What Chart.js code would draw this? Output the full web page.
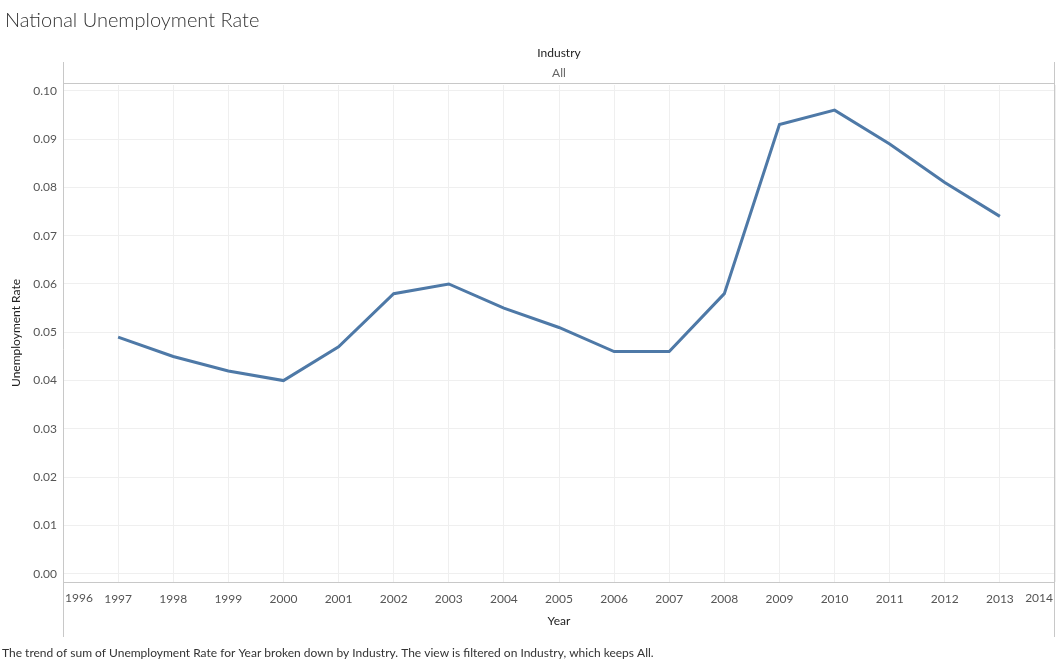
<!DOCTYPE html>
<html>
<head>
<meta charset="UTF-8">
<script src="https://cdn.jsdelivr.net/npm/chart.js"></script>
<style>
  body { margin: 0; background: #fff; }
  #wrap { width: 1057px; height: 663px; position: relative; }
</style>
</head>
<body>
<div id="wrap"><canvas id="chart" width="1057" height="663"></canvas></div>
<script>
const years = [1997, 1998, 1999, 2000, 2001, 2002, 2003, 2004, 2005, 2006, 2007, 2008, 2009, 2010, 2011, 2012, 2013];
const rates = [0.049, 0.045, 0.042, 0.040, 0.047, 0.058, 0.060, 0.055, 0.051, 0.046, 0.046, 0.058, 0.093, 0.096, 0.089, 0.081, 0.074];
const yTicks = [0, 0.01, 0.02, 0.03, 0.04, 0.05, 0.06, 0.07, 0.08, 0.09, 0.10];
const xTicks = [1996, 1997, 1998, 1999, 2000, 2001, 2002, 2003, 2004, 2005, 2006, 2007, 2008, 2009, 2010, 2011, 2012, 2013, 2014];
const xMin = 1996, xMax = 2014;

const FONT = 'Lato, "Open Sans", sans-serif';

// titles, headers, edge tick labels and frame lines drawn on the canvas
const decor = {
  id: 'decor',
  afterDraw(chart) {
    const c = chart.ctx, a = chart.chartArea;
    c.save();
    c.fillStyle = '#333';
    c.font = '300 20px ' + FONT;
    c.textBaseline = 'middle';
    c.fillText('National Unemployment Rate', 5, 21);
    c.textAlign = 'center';
    c.font = '12px ' + FONT;
    c.fillStyle = '#555';
    // edge year labels are pulled inside the plot, as in the original view
    c.textAlign = 'left';
    c.fillText(String(xMin), a.left + 2, 598);
    c.textAlign = 'right';
    c.fillText(String(xMax), a.right - 2, 598);
    c.textAlign = 'center';
    c.fillStyle = '#222';
    c.fillText('Industry', 559, 53);
    c.fillStyle = '#666';
    c.fillText('All', 559, 73);
    c.fillStyle = '#222';
    c.fillText('Year', 559, 621);
    c.save();
    c.translate(16, 333);
    c.rotate(-Math.PI / 2);
    c.fillText('Unemployment Rate', 0, 0);
    c.restore();
    c.textAlign = 'left';
    c.fillStyle = '#333';
    c.fillText('The trend of sum of Unemployment Rate for Year broken down by Industry. The view is filtered on Industry, which keeps All.', 2, 653);
    c.strokeStyle = '#c8c8c8';
    c.lineWidth = 1;
    c.beginPath();
    c.moveTo(a.left + 0.5, 62); c.lineTo(a.left + 0.5, 637);
    c.moveTo(a.right - 0.5, 62); c.lineTo(a.right - 0.5, 637);
    c.moveTo(a.left, 83.5); c.lineTo(a.right, 83.5);
    c.moveTo(a.left, a.bottom + 0.5); c.lineTo(a.right, a.bottom + 0.5);
    c.stroke();
    c.restore();
  }
};

new Chart(document.getElementById('chart'), {
  type: 'line',
  data: {
    datasets: [{
      data: years.map((y, i) => ({ x: y, y: rates[i] })),
      borderColor: '#4e79a7',
      borderWidth: 3,
      pointRadius: 0,
      tension: 0
    }]
  },
  options: {
    responsive: false,
    animation: false,
    layout: { padding: { top: 85, left: 0, right: 2, bottom: 0 } },
    plugins: { legend: { display: false }, tooltip: { enabled: false } },
    scales: {
      x: {
        type: 'linear',
        min: xMin, max: xMax,
        afterBuildTicks: s => { s.ticks = xTicks.map(v => ({ value: v })); },
        afterFit: s => { s.height = 81; s.paddingLeft = 0; s.paddingRight = 0; },
        grid: { color: '#efefef', drawTicks: false },
        border: { display: false },
        ticks: { font: { family: FONT, size: 12 }, color: '#555', padding: 10,
                 callback: v => (v === xMin || v === xMax) ? '' : String(v) }
      },
      y: {
        min: -0.0017, max: 0.1012,
        afterBuildTicks: s => { s.ticks = yTicks.map(v => ({ value: v })); },
        afterFit: s => { s.width = 63; },
        grid: { color: '#efefef', drawTicks: false },
        border: { display: false },
        ticks: { font: { family: FONT, size: 12 }, color: '#555', padding: 6, callback: v => v.toFixed(2) }
      }
    }
  },
  plugins: [decor]
});
</script>
</body>
</html>
